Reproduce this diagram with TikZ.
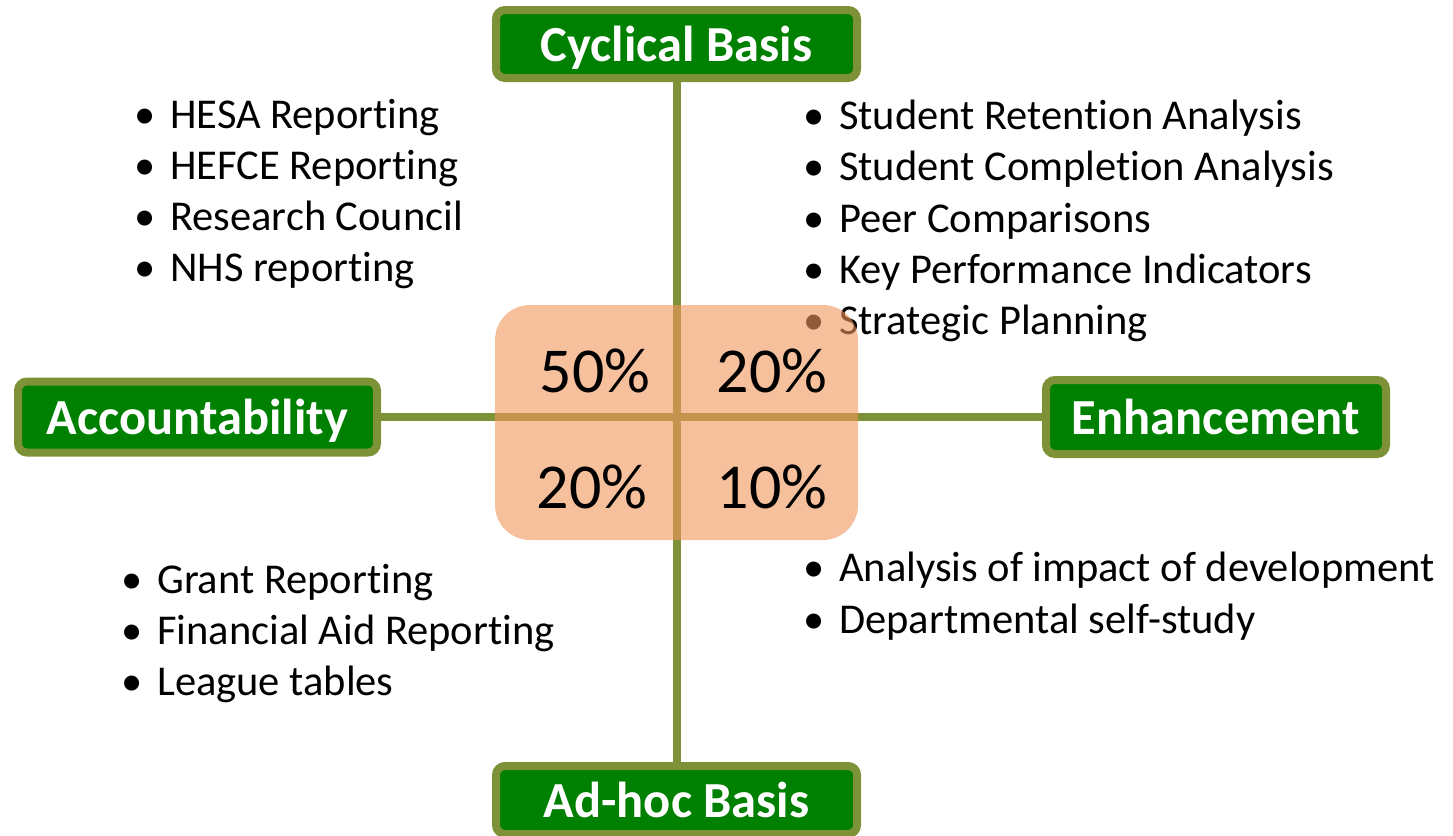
\documentclass[tikz,border=0pt]{standalone}
\usepackage{fontspec}
\setmainfont{Carlito}[Ligatures=NoCommon]
\usetikzlibrary{positioning}
\definecolor{olivebar}{RGB}{125,145,55}
\definecolor{boxgreen}{RGB}{0,128,0}
\definecolor{peach}{RGB}{240,150,92}

\begin{document}
\begin{tikzpicture}[x=1pt,y=-1pt,
  axisbox/.style={draw=olivebar,line width=8pt,fill=boxgreen,rounded corners=9pt,
    text=white,font=\fontsize{50.5}{54}\selectfont\bfseries,inner sep=0pt,text depth=0pt},
  bullets/.style={anchor=base west,align=left,inner sep=0pt,font=\fontsize{42.5}{51}\selectfont},
  pct/.style={font=\fontsize{64}{70}\selectfont,inner sep=0pt}]
  \useasboundingbox (0,0) rectangle (1453,835);
  % Axis labels
  \node[axisbox,minimum width=361pt,minimum height=68pt] (cyc) at (676.5,44) {Cyclical Basis};
  \node[axisbox,minimum width=361pt,minimum height=68pt] (adhoc) at (676.5,800) {Ad-hoc Basis};
  \node[axisbox,minimum width=359pt,minimum height=71pt] (acc) at (197.5,417) {Accountability};
  \node[axisbox,minimum width=340pt,minimum height=74pt] (enh) at (1216,417) {Enhancement};
  % Axes
  \draw[olivebar,line width=8pt] (cyc.south) -- (adhoc.north);
  \draw[olivebar,line width=8pt] (acc.east) -- (enh.west);
  % Quadrant lists (anchored at the last line)
  \def\bul{\makebox[36pt][l]{•}}
  \node[bullets] (hesa) at (134,281.5) {\bul HESA Reporting\\\bul HEFCE Reporting\\\bul Research Council\\\bul NHS reporting};
  \node[bullets,font=\fontsize{42.5}{51.25}\selectfont] (retention) at (803,334.5) {\bul Student Retention Analysis\\\bul Student Completion Analysis\\\bul Peer Comparisons\\\bul Key Performance Indicators\\\bul Strategic Planning};
  \node[bullets] (grant) at (121,695.5) {\bul Grant Reporting\\\bul Financial Aid Reporting\\\bul League tables};
  \node[bullets,font=\fontsize{42.5}{52}\selectfont] (impact) at (803,633) {\bul Analysis of impact of development\\\bul Departmental self-study};
  % Centre shares
  \fill[peach,opacity=0.6,rounded corners=35pt] (495,305) rectangle (858,540);
  \node[pct] (p50) at (595,371) {50\%};
  \node[pct] (p20a) at (772,371) {20\%};
  \node[pct] (p20b) at (592,487) {20\%};
  \node[pct] (p10) at (772,487) {10\%};
\end{tikzpicture}
\end{document}
